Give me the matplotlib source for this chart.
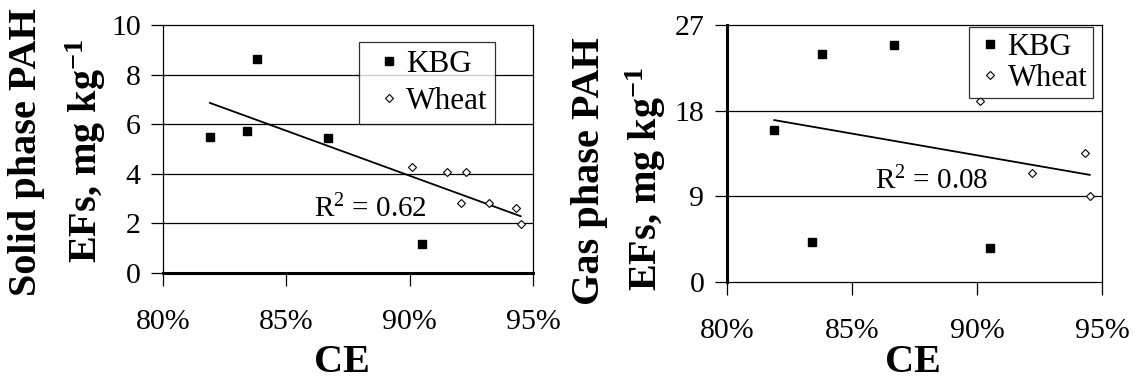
import numpy as np
import matplotlib
matplotlib.use("Agg")
import matplotlib.pyplot as plt
from matplotlib.ticker import FuncFormatter

plt.rcParams['font.family'] = ['Liberation Serif', 'DejaVu Serif']
plt.rcParams['mathtext.fontset'] = 'custom'
plt.rcParams['mathtext.rm'] = 'Liberation Serif'
plt.rcParams['mathtext.bf'] = 'Liberation Serif:bold'
plt.rcParams['mathtext.default'] = 'regular'

# Combustion efficiency (%) and PAH emission factors (mg/kg)
kbg_ce = [81.9, 83.4, 83.8, 86.7, 90.5]
kbg_solid = [5.47, 5.74, 8.64, 5.44, 1.16]
wheat_ce_solid = [90.1, 91.5, 92.3, 92.1, 93.2, 94.3, 94.5]
wheat_solid = [4.29, 4.06, 4.07, 2.81, 2.83, 2.63, 1.99]

kbg_gas = [15.95, 4.14, 24.0, 24.85, 3.54]
wheat_ce_gas = [90.1, 92.2, 94.3, 94.5]
wheat_gas = [19.03, 11.4, 13.5, 9.0]

x_ticks = [80, 85, 90, 95]
solid_ticks = [0, 2, 4, 6, 8, 10]
gas_ticks = [0, 9, 18, 27]
r2_solid = "0.62"
r2_gas = "0.08"

fig = plt.figure(figsize=(11.38, 3.81), dpi=100)
ax1 = fig.add_axes([163 / 1138, 1 - 273 / 381, 370 / 1138, 248 / 381])
ax2 = fig.add_axes([726.7 / 1138, 1 - 281.7 / 381, 375.6 / 1138, 256.7 / 381])

TICK_FS = 21.5
pct = FuncFormatter(lambda v, p: f"{v:.0f}%")


def draw_panel(ax, wheat_ce, kbg_y, wheat_y, yticks, r2, r2_xy, leg_anchor,
               thick_spine, leg_opts):
    ax.set_xlim(80, 95)
    ax.set_ylim(yticks[0], yticks[-1])
    ax.set_xticks(x_ticks)
    ax.set_yticks(yticks)
    ax.xaxis.set_major_formatter(pct)
    for y in yticks[1:-1]:
        ax.axhline(y, color='black', lw=0.9, zorder=1)
    # linear trendline through both fuels
    xs = np.array(kbg_ce + wheat_ce)
    ys = np.array(kbg_y + wheat_y)
    k, b = np.polyfit(xs, ys, 1)
    xl = np.array([xs.min(), xs.max()])
    ax.plot(xl, k * xl + b, color='black', lw=1.3, zorder=2)
    ax.plot(kbg_ce, kbg_y, 's', color='black', ms=5.2, ls='none',
            label='KBG', zorder=3)
    ax.plot(wheat_ce, wheat_y, 'D', mfc='white', mec='black', mew=0.8,
            ms=4.3, ls='none', label='Wheat', zorder=3)
    ax.text(r2_xy[0], r2_xy[1], f"R$^{{2}}$ = {r2}", fontsize=21,
            ha='center', va='baseline', zorder=4)
    leg = ax.legend(loc='upper left', bbox_to_anchor=leg_anchor,
                    frameon=True, fancybox=False, borderaxespad=0, **leg_opts)
    leg.get_frame().set_edgecolor('black')
    leg.get_frame().set_linewidth(0.9)
    for s in ax.spines.values():
        s.set_linewidth(0.9)
    ax.spines[thick_spine].set_linewidth(2.2)
    ax.tick_params(axis='both', direction='out', length=9, width=0.9,
                   labelsize=TICK_FS, colors='black')
    ax.tick_params(axis='x', pad=17)
    ax.tick_params(axis='y', pad=7)


draw_panel(ax1, wheat_ce_solid, kbg_solid, wheat_solid, solid_ticks, r2_solid,
           (88.4, 2.25), (0.53, 0.931), 'bottom',
           dict(fontsize=22.5, borderpad=0.25, labelspacing=0.27,
                handlelength=1.4, handletextpad=-0.15))
draw_panel(ax2, wheat_ce_gas, kbg_gas, wheat_gas, gas_ticks, r2_gas,
           (88.2, 9.7), (0.645, 0.991), 'left',
           dict(fontsize=22, borderpad=0.18, labelspacing=0.06,
                handlelength=1.0, handletextpad=0.08))

LAB_FS = 29
fig.text(27 / 1138, 1 - 152 / 381, "Solid phase PAH", rotation=90,
         ha='center', va='center', fontsize=LAB_FS, fontweight='bold')
fig.text(86 / 1138, 1 - 151 / 381, "EFs, mg kg$^{-1}$", rotation=90,
         ha='center', va='center', fontsize=LAB_FS, fontweight='bold')
fig.text(589 / 1138, 1 - 171.5 / 381, "Gas phase PAH", rotation=90,
         ha='center', va='center', fontsize=LAB_FS, fontweight='bold')
fig.text(646 / 1138, 1 - 178.5 / 381, "EFs, mg kg$^{-1}$", rotation=90,
         ha='center', va='center', fontsize=LAB_FS, fontweight='bold')
fig.text(341.5 / 1138, 1 - 372 / 381, "CE", ha='center', va='baseline',
         fontsize=LAB_FS, fontweight='bold')
fig.text(913 / 1138, 1 - 371.7 / 381, "CE", ha='center', va='baseline',
         fontsize=LAB_FS, fontweight='bold')

fig.savefig("out.png", dpi=100, facecolor='white')
